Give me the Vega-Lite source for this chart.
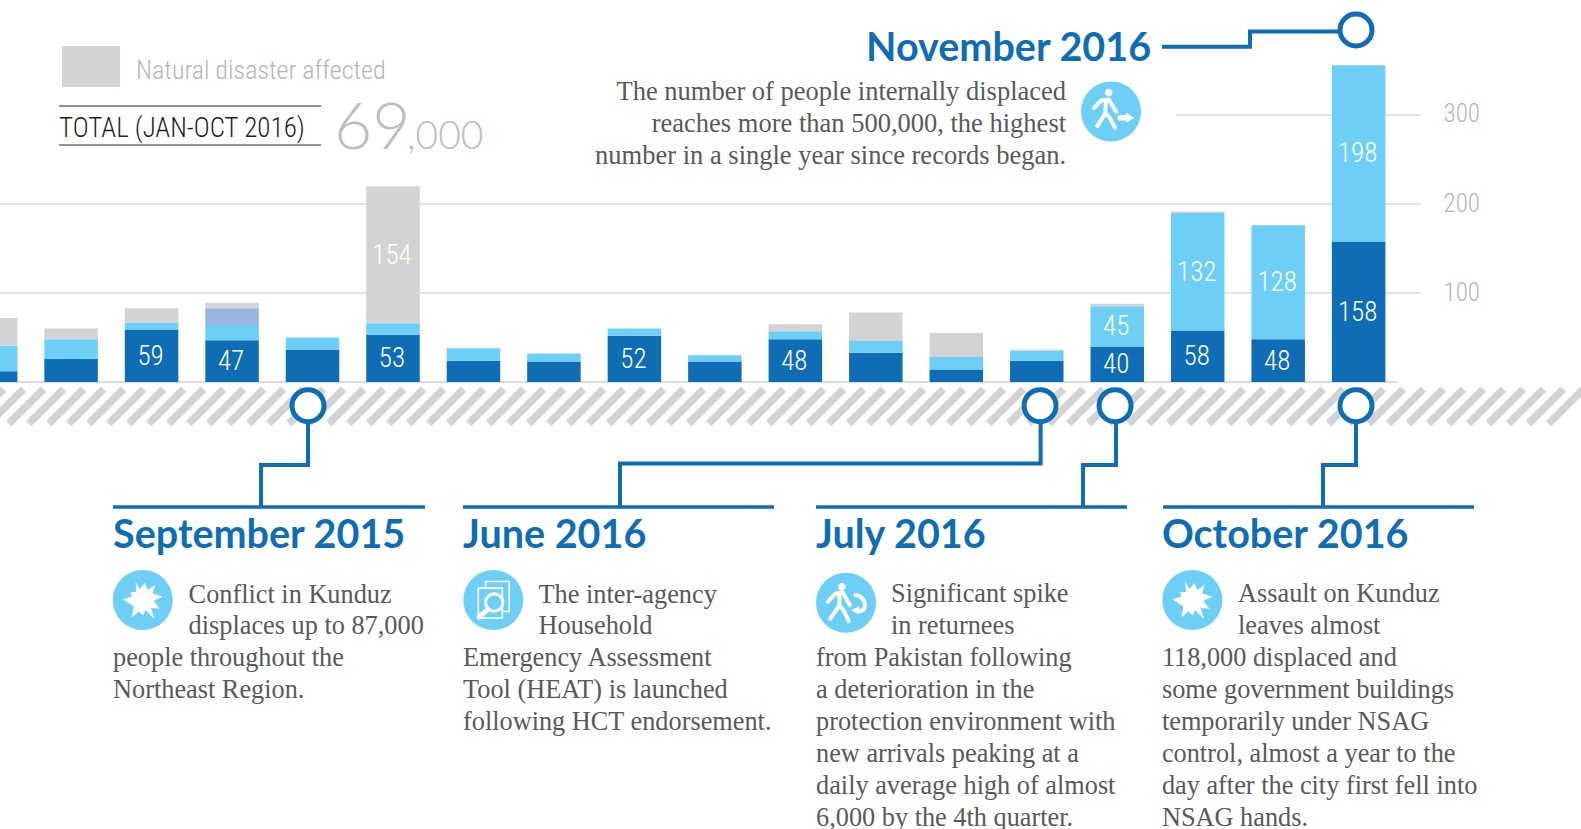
{"$schema":"https://vega.github.io/schema/vega-lite/v6.json","width":1581,"height":829,"padding":0,"autosize":{"type":"none"},"background":"white","config":{"view":{"stroke":null},"axisY":{"domain":false,"ticks":false,"grid":false,"labelPadding":2,"labelFont":"Roboto Condensed","labelFontWeight":300,"labelFontSize":25,"labelColor":"#b3b5b8","labelOffset":-1,"title":null}},
"datasets":{"bars":[
{"month":"2015-05","x":0,"series":"conflict","rank":1,"value":12},{"month":"2015-05","x":0,"series":"returnee","rank":2,"value":29},{"month":"2015-05","x":0,"series":"natural disaster","rank":4,"value":31},
{"month":"2015-06","x":1,"series":"conflict","rank":1,"value":26},{"month":"2015-06","x":1,"series":"returnee","rank":2,"value":22},{"month":"2015-06","x":1,"series":"natural disaster","rank":4,"value":12},
{"month":"2015-07","x":2,"series":"conflict","rank":1,"value":59,"labeled":true},{"month":"2015-07","x":2,"series":"returnee","rank":2,"value":8},{"month":"2015-07","x":2,"series":"natural disaster","rank":4,"value":16},
{"month":"2015-08","x":3,"series":"conflict","rank":1,"value":47,"labeled":true},{"month":"2015-08","x":3,"series":"returnee","rank":2,"value":17},{"month":"2015-08","x":3,"series":"other","rank":3,"value":19},{"month":"2015-08","x":3,"series":"natural disaster","rank":4,"value":6},
{"month":"2015-09","x":4,"series":"conflict","rank":1,"value":36},{"month":"2015-09","x":4,"series":"returnee","rank":2,"value":14},
{"month":"2015-10","x":5,"series":"conflict","rank":1,"value":53,"labeled":true},{"month":"2015-10","x":5,"series":"returnee","rank":2,"value":13},{"month":"2015-10","x":5,"series":"natural disaster","rank":4,"value":154,"labeled":true},
{"month":"2015-11","x":6,"series":"conflict","rank":1,"value":24},{"month":"2015-11","x":6,"series":"returnee","rank":2,"value":14},
{"month":"2015-12","x":7,"series":"conflict","rank":1,"value":23},{"month":"2015-12","x":7,"series":"returnee","rank":2,"value":9},
{"month":"2016-01","x":8,"series":"conflict","rank":1,"value":52,"labeled":true},{"month":"2016-01","x":8,"series":"returnee","rank":2,"value":8},
{"month":"2016-02","x":9,"series":"conflict","rank":1,"value":23},{"month":"2016-02","x":9,"series":"returnee","rank":2,"value":7},
{"month":"2016-03","x":10,"series":"conflict","rank":1,"value":48,"labeled":true},{"month":"2016-03","x":10,"series":"returnee","rank":2,"value":9},{"month":"2016-03","x":10,"series":"natural disaster","rank":4,"value":8},
{"month":"2016-04","x":11,"series":"conflict","rank":1,"value":33},{"month":"2016-04","x":11,"series":"returnee","rank":2,"value":13},{"month":"2016-04","x":11,"series":"natural disaster","rank":4,"value":32},
{"month":"2016-05","x":12,"series":"conflict","rank":1,"value":14},{"month":"2016-05","x":12,"series":"returnee","rank":2,"value":14},{"month":"2016-05","x":12,"series":"natural disaster","rank":4,"value":27},
{"month":"2016-06","x":13,"series":"conflict","rank":1,"value":24},{"month":"2016-06","x":13,"series":"returnee","rank":2,"value":11},{"month":"2016-06","x":13,"series":"natural disaster","rank":4,"value":1.5},
{"month":"2016-07","x":14,"series":"conflict","rank":1,"value":40,"labeled":true},{"month":"2016-07","x":14,"series":"returnee","rank":2,"value":45,"labeled":true},{"month":"2016-07","x":14,"series":"natural disaster","rank":4,"value":3},
{"month":"2016-08","x":15,"series":"conflict","rank":1,"value":58,"labeled":true},{"month":"2016-08","x":15,"series":"returnee","rank":2,"value":132,"labeled":true},{"month":"2016-08","x":15,"series":"natural disaster","rank":4,"value":1.5},
{"month":"2016-09","x":16,"series":"conflict","rank":1,"value":48,"labeled":true},{"month":"2016-09","x":16,"series":"returnee","rank":2,"value":128,"labeled":true},
{"month":"2016-10","x":17,"series":"conflict","rank":1,"value":158,"labeled":true},{"month":"2016-10","x":17,"series":"returnee","rank":2,"value":198,"labeled":true}
],
"icons":[{"x":1.89,"y":-245,"icon":"burst"},{"x":14.933,"y":-245,"icon":"burst"},{"x":6.247,"y":-245,"icon":"doc"},{"x":10.63,"y":-248,"icon":"return"},{"x":13.923,"y":304,"icon":"walk"}],
"hatch":[{"x":-0.27},{"x":-0.022},{"x":0.227},{"x":0.476},{"x":0.724},{"x":0.973},{"x":1.221},{"x":1.47},{"x":1.718},{"x":1.967},{"x":2.215},{"x":2.464},{"x":2.712},{"x":2.961},{"x":3.209},{"x":3.458},{"x":3.706},{"x":3.955},{"x":4.203},{"x":4.452},{"x":4.7},{"x":4.949},{"x":5.197},{"x":5.446},{"x":5.694},{"x":5.943},{"x":6.191},{"x":6.44},{"x":6.688},{"x":6.937},{"x":7.185},{"x":7.434},{"x":7.682},{"x":7.931},{"x":8.179},{"x":8.428},{"x":8.676},{"x":8.925},{"x":9.173},{"x":9.422},{"x":9.67},{"x":9.919},{"x":10.167},{"x":10.416},{"x":10.664},{"x":10.913},{"x":11.161},{"x":11.41},{"x":11.658},{"x":11.907},{"x":12.155},{"x":12.404},{"x":12.652},{"x":12.901},{"x":13.149},{"x":13.398},{"x":13.646},{"x":13.895},{"x":14.143},{"x":14.392},{"x":14.64},{"x":14.889},{"x":15.137},{"x":15.386},{"x":15.634},{"x":15.883},{"x":16.131},{"x":16.38},{"x":16.628},{"x":16.877},{"x":17.125},{"x":17.374},{"x":17.622},{"x":17.871},{"x":18.119},{"x":18.368},{"x":18.616},{"x":18.865},{"x":19.113},{"x":19.362}]
},
"encoding":{"x":{"field":"x","type":"quantitative","scale":{"domain":[0.1164,19.763],"nice":false,"zero":false,"padding":0},"axis":null},
"y":{"field":"y","type":"quantitative","title":null,"scale":{"domain":[-502.2,429.2],"nice":false,"zero":false},"axis":{"orient":"right","offset":-140,"values":[100,200,300]}}},
"layer":[
{"data":{"name":"hatch"},"transform":[{"calculate":"datum.x+0.43","as":"x2"},{"calculate":"-46.6","as":"low"},{"calculate":"-7.9","as":"high"}],
"mark":{"type":"rule","stroke":"#d1d3d4","strokeWidth":7.5,"strokeCap":"butt"},
"encoding":{"x2":{"field":"x2"},"y":{"field":"low","type":"quantitative","title":null,"scale":{"domain":[-502.2,429.2],"nice":false,"zero":false},"axis":{"orient":"right","offset":-140,"values":[100,200,300]}},"y2":{"field":"high"}}},
{"data":{"values":[{"y":100,"x":-1,"x2":17.775},{"y":200,"x":-1,"x2":17.775},{"y":300,"x":14.73,"x2":17.775}]},
"mark":{"type":"rule","stroke":"#d8d9da","strokeWidth":1.5},"encoding":{"x2":{"field":"x2"}}},
{"data":{"values":[{"y":0,"x":-1,"x2":17.49}]},"mark":{"type":"rule","stroke":"#dcddde","strokeWidth":2},"encoding":{"x2":{"field":"x2"}}},
{"data":{"name":"bars"},"mark":{"type":"bar","size":53.5,"orient":"vertical"},
"encoding":{"y":{"field":"value","type":"quantitative","stack":"zero","title":null,"scale":{"domain":[-502.2,429.2],"nice":false,"zero":false},"axis":{"orient":"right","offset":-140,"values":[100,200,300]}},"order":{"field":"rank"},
"color":{"field":"series","type":"nominal","legend":null,"scale":{"domain":["conflict","returnee","other","natural disaster"],"range":["#0f6db6","#6dcff6","#97b5de","#d1d3d4"]}}}},
{"data":{"name":"bars"},"transform":[{"stack":"value","groupby":["x"],"sort":[{"field":"rank"}],"as":["y0","y1"]},{"filter":"datum.labeled"},{"calculate":"(datum.y0+datum.y1)/2","as":"mid"}],
"mark":{"type":"text","font":"Roboto Condensed","fontWeight":300,"fontSize":27,"color":"white","baseline":"middle","align":"center","dy":1,"dx":-1},
"encoding":{"y":{"field":"mid","type":"quantitative","title":null,"scale":{"domain":[-502.2,429.2],"nice":false,"zero":false},"axis":{"orient":"right","offset":-140,"values":[100,200,300]}},"text":{"field":"value","type":"quantitative"}}},
{"data":{"values":[{"x":1.521,"x2":5.398,"y":-140.3},{"x":5.87,"x2":9.735,"y":-140.3},{"x":10.257,"x2":14.122,"y":-140.3},{"x":14.569,"x2":18.434,"y":-140.3}]},"mark":{"type":"rule","stroke":"#0f6db6","strokeWidth":3.5},"encoding":{"x2":{"field":"x2"}}},
{"data":{"values":[
{"id":"sep","o":1,"x":3.944,"y":-47},{"id":"sep","o":2,"x":3.944,"y":-93.3},{"id":"sep","o":3,"x":3.36,"y":-93.3},{"id":"sep","o":4,"x":3.36,"y":-140.3},
{"id":"jun","o":1,"x":13.048,"y":-47},{"id":"jun","o":2,"x":13.048,"y":-91.5},{"id":"jun","o":3,"x":7.821,"y":-91.5},{"id":"jun","o":4,"x":7.821,"y":-140.3},
{"id":"jul","o":1,"x":13.985,"y":-47},{"id":"jul","o":2,"x":13.985,"y":-93.3},{"id":"jul","o":3,"x":13.575,"y":-93.3},{"id":"jul","o":4,"x":13.575,"y":-140.3},
{"id":"oct","o":1,"x":16.967,"y":-47},{"id":"oct","o":2,"x":16.967,"y":-93.3},{"id":"oct","o":3,"x":16.557,"y":-93.3},{"id":"oct","o":4,"x":16.557,"y":-140.3},
{"id":"nov","o":1,"x":14.557,"y":376.7},{"id":"nov","o":2,"x":15.65,"y":376.7},{"id":"nov","o":3,"x":15.65,"y":393.8},{"id":"nov","o":4,"x":16.744,"y":393.8}
]},"mark":{"type":"line","stroke":"#0f6db6","strokeWidth":4,"strokeJoin":"miter"},"encoding":{"detail":{"field":"id"},"order":{"field":"o"}}},
{"data":{"values":[{"x":3.944,"y":-26.6},{"x":13.041,"y":-26.6},{"x":13.973,"y":-26.6},{"x":16.967,"y":-26.6},{"x":16.967,"y":395.5}]},"mark":{"type":"point","filled":true,"fill":"white","stroke":"#0f6db6","strokeWidth":5,"size":1024,"opacity":1}},
{"data":{"name":"icons"},"mark":{"type":"point","shape":"circle","filled":true,"fill":"#6dcff6","stroke":null,"size":3600,"opacity":1}},
{"data":{"name":"icons"},"transform":[{"filter":"datum.icon=='burst'"}],"mark":{"type":"point","filled":true,"fill":"white","stroke":null,"size":3600,"opacity":1,"shape":"M-.24 -.62L-.10 -.37L.07 -.57L.17 -.34L.42 -.51L.33 -.23L.66 -.11L.37 .03L.57 .29L.28 .26L.39 .63L.09 .34L.01 .51L-.13 .38L-.36 .57L-.30 .21L-.66 -.03L-.36 -.12L-.41 -.27L-.21 -.27Z"}},
{"data":{"name":"icons"},"transform":[{"filter":"datum.icon=='walk'"}],"mark":{"type":"point","filled":false,"fill":null,"stroke":"white","strokeWidth":4,"strokeCap":"round","strokeJoin":"round","size":3600,"opacity":1,"shape":"M-.57 -.11L-.33 -.37L-.07 -.39L.17 .01M-.17 -.37L-.19 .06L-.46 .49M-.19 .06L-.06 .19L.13 .54"}},
{"data":{"name":"icons"},"transform":[{"filter":"datum.icon=='walk'"}],"mark":{"type":"point","filled":true,"fill":"white","stroke":null,"size":3600,"opacity":1,"shape":"M-.21 -.63A.13 .13 0 1 1 .05 -.63A.13 .13 0 1 1 -.21 -.63ZM.22 .12L.5 .12L.5 .04L.78 .21L.5 .38L.5 .30L.22 .30Z"}},
{"data":{"name":"icons"},"transform":[{"filter":"datum.icon=='return'"}],"mark":{"type":"point","filled":false,"fill":null,"stroke":"white","strokeWidth":4,"strokeCap":"round","strokeJoin":"round","size":3600,"opacity":1,"shape":"M-.61 -.03L-.36 -.30L-.11 -.34L.13 .08M-.22 -.31L-.22 .08L-.53 .54M-.22 .08L-.09 .24L.09 .61M.31 -.26C.62 -.26 .80 .30 .40 .28"}},
{"data":{"name":"icons"},"transform":[{"filter":"datum.icon=='return'"}],"mark":{"type":"point","filled":true,"fill":"white","stroke":null,"size":3600,"opacity":1,"shape":"M-.27 -.53A.13 .13 0 1 1 -.01 -.53A.13 .13 0 1 1 -.27 -.53ZM.17 .26L.44 .11L.44 .39Z"}},
{"data":{"name":"icons"},"transform":[{"filter":"datum.icon=='doc'"}],"mark":{"type":"point","filled":false,"fill":null,"stroke":"white","strokeWidth":1.6,"size":3600,"opacity":1,"shape":"M-.26 -.40L-.26 -.62L.53 -.62L.53 .38L.30 .38M-.50 -.40L.30 -.40L.30 .60L-.50 .60Z"}},
{"data":{"name":"icons"},"transform":[{"filter":"datum.icon=='doc'"}],"mark":{"type":"point","filled":true,"fill":"#6dcff6","stroke":"white","strokeWidth":3,"size":3600,"opacity":1,"shape":"M-.26 .08A.29 .29 0 1 1 .32 .08A.29 .29 0 1 1 -.26 .08Z"}},
{"data":{"name":"icons"},"transform":[{"filter":"datum.icon=='doc'"}],"mark":{"type":"point","filled":false,"fill":null,"stroke":"white","strokeWidth":5,"strokeCap":"round","size":3600,"opacity":1,"shape":"M-.19 .32L-.48 .57"}},
{"data":{"values":[{"x":0.887,"x2":1.608,"y":377.5,"y2":331.5}]},"mark":{"type":"rect","fill":"#d1d3d4"},"encoding":{"x2":{"field":"x2"},"y2":{"field":"y2"}}},
{"data":{"values":[{"x":0.85,"x2":4.106,"y":310.1}]},"mark":{"type":"rule","stroke":"#231f20","strokeWidth":1},"encoding":{"x2":{"field":"x2"}}},
{"data":{"values":[{"x":0.85,"x2":4.106,"y":266.3}]},"mark":{"type":"rule","stroke":"#6d6e71","strokeWidth":1.5},"encoding":{"x2":{"field":"x2"}}},
{"data":{"values":[{"x":1.807,"y":340.4,"t":"Natural disaster affected"}]},"mark":{"type":"text","align":"left","baseline":"alphabetic","font":"Roboto Condensed","fontWeight":300,"fontSize":26,"color":"#b3b5b8"},"encoding":{"text":{"field":"t"}}},
{"data":{"values":[{"x":0.85,"y":275.3,"t":"TOTAL (JAN-OCT 2016)"}]},"mark":{"type":"text","align":"left","baseline":"alphabetic","font":"Roboto Condensed","fontWeight":300,"fontSize":27,"color":"#231f20"},"encoding":{"text":{"field":"t"}}},
{"data":{"values":[{"x":4.267,"y":261.8,"t":"69"}]},"mark":{"type":"text","align":"left","baseline":"alphabetic","font":"Lato","fontWeight":300,"fontSize":66,"color":"#bcbec0"},"encoding":{"text":{"field":"t"}}},
{"data":{"values":[{"x":5.174,"y":261.8,"t":",000"}]},"mark":{"type":"text","align":"left","baseline":"alphabetic","font":"Lato","fontWeight":300,"fontSize":39,"color":"#bcbec0"},"encoding":{"text":{"field":"t"}}},
{"data":{"values":[{"x":1.521,"y":-186,"t":"September 2015"},{"x":5.87,"y":-186,"t":"June 2016"},{"x":10.257,"y":-186,"t":"July 2016"},{"x":14.555,"y":-186,"t":"October 2016"}]},"mark":{"type":"text","align":"left","baseline":"alphabetic","font":"Lato","fontWeight":700,"fontSize":39.5,"color":"#0f6db6"},"encoding":{"text":{"field":"t"}}},
{"data":{"values":[{"x":14.42,"y":361.2,"t":"November 2016"}]},"mark":{"type":"text","align":"right","baseline":"alphabetic","font":"Lato","fontWeight":700,"fontSize":39.5,"color":"#0f6db6"},"encoding":{"text":{"field":"t"}}},
{"data":{"values":[{"x":13.364,"y":316.9,"t":"The number of people internally displaced"},{"x":13.364,"y":280.9,"t":"reaches more than 500,000, the highest"},{"x":13.364,"y":245.5,"t":"number in a single year since records began."}]},"mark":{"type":"text","align":"right","baseline":"alphabetic","font":"Liberation Serif","fontSize":26.5,"color":"#58595b"},"encoding":{"text":{"field":"t"}}},
{"data":{"values":[
{"x":2.46,"y":-248,"t":"Conflict in Kunduz"},{"x":2.46,"y":-283.5,"t":"displaces up to 87,000"},{"x":1.521,"y":-319.1,"t":"people throughout the"},{"x":1.521,"y":-355.1,"t":"Northeast Region."},
{"x":6.808,"y":-248,"t":"The inter-agency"},{"x":6.808,"y":-283.5,"t":"Household"},{"x":5.87,"y":-319.1,"t":"Emergency Assessment"},{"x":5.87,"y":-355.1,"t":"Tool (HEAT) is launched"},{"x":5.87,"y":-391,"t":"following HCT endorsement."},
{"x":11.189,"y":-247.2,"t":"Significant spike"},{"x":11.189,"y":-283.1,"t":"in returnees"},{"x":10.257,"y":-319.1,"t":"from Pakistan following"},{"x":10.257,"y":-355.1,"t":"a deterioration in the"},{"x":10.257,"y":-391,"t":"protection environment with"},{"x":10.257,"y":-427,"t":"new arrivals peaking at a"},{"x":10.257,"y":-462.9,"t":"daily average high of almost"},{"x":10.257,"y":-498.9,"t":"6,000 by the 4th quarter."},
{"x":15.501,"y":-247.2,"t":"Assault on Kunduz"},{"x":15.501,"y":-283.1,"t":"leaves almost"},{"x":14.555,"y":-319.1,"t":"118,000 displaced and"},{"x":14.555,"y":-355.1,"t":"some government buildings"},{"x":14.555,"y":-391,"t":"temporarily under NSAG"},{"x":14.555,"y":-427,"t":"control, almost a year to the"},{"x":14.555,"y":-462.9,"t":"day after the city first fell into"},{"x":14.555,"y":-498.9,"t":"NSAG hands."}
]},"mark":{"type":"text","align":"left","baseline":"alphabetic","font":"Liberation Serif","fontSize":26.3,"color":"#58595b"},"encoding":{"text":{"field":"t"}}}
]}
